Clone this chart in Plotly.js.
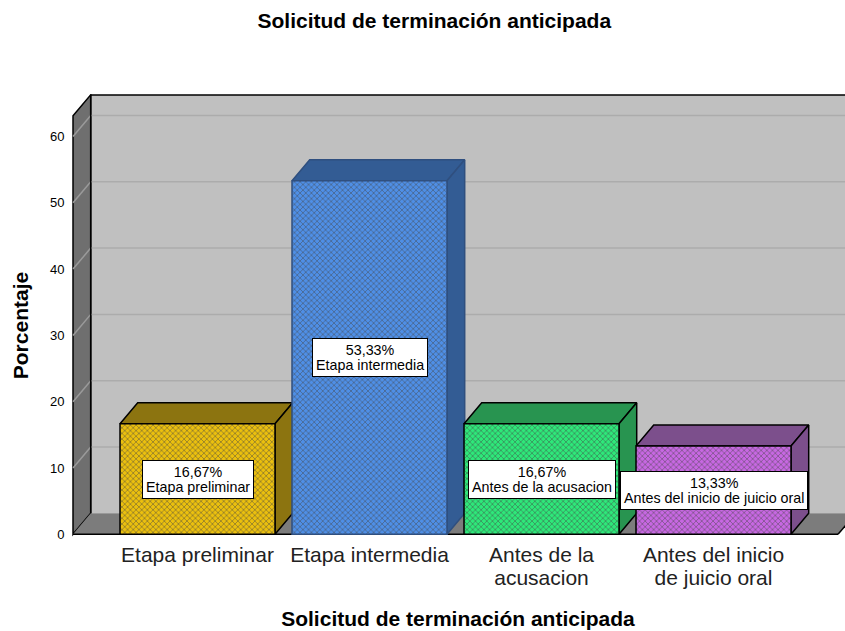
<!DOCTYPE html>
<html><head><meta charset="utf-8">
<script src="https://cdn.plot.ly/plotly-3.0.1.min.js"></script>
<style>html,body{margin:0;padding:0;background:#fff}</style></head>
<body><div id="c" style="width:845px;height:631px"></div>
<script>
const categories=['Etapa preliminar','Etapa intermedia','Antes de la acusacion','Antes del inicio de juicio oral'];
const tickLabels=['Etapa preliminar','Etapa intermedia','Antes de la<br>acusacion','Antes del inicio<br>de juicio oral'];
const values=[16.67,53.33,16.67,13.33];
const valueLabels=['16,67%','53,33%','16,67%','13,33%'];
const yTicks=[0,10,20,30,40,50,60];
const frontColors=['#EBC00E','#4F8FE6','#2EE87A','#C768E2'];
const dotColors=['#4A3C00','#183668','#0C5A2C','#46205C'];
const shadeColors=['#8C7410','#335C94','#289450','#7C4F8C'];
const edgeColors=['#000','#2F4F7F','#000','#000'];

const xPos=categories.map((_,i)=>i);
const bw=155/172, dx=17.7/172, dy=21/6.63;
const xMin=-0.7238, xMax=3.7238, yTop=63.1;
const xRange=[-0.7355,3.7645], yRange=[-0.4,66.4];

function poly(xs,ys,fill,line,w){return {type:'path',layer:'below',xref:'x',yref:'y',
  path:xs.map((x,i)=>(i?'L':'M')+x+','+ys[i]).join(' ')+' Z',fillcolor:fill,line:{color:line,width:w}};}
function seg(x0,y0,x1,y1,color,w){return {type:'line',layer:'below',xref:'x',yref:'y',x0,y0,x1,y1,line:{color,width:w}};}

const shapes=[
  poly([xMin+dx,xMax+dx+1,xMax+dx+1,xMin+dx],[dy,dy,yTop+dy,yTop+dy],'#C0C0C0','rgba(0,0,0,0)',0),
  poly([xMin,xMin+dx,xMin+dx,xMin],[0,dy,yTop+dy,yTop],'#6F6F6F','#000',1.5),
  poly([xMin,xMax,xMax+dx,xMin+dx],[0,0,dy,dy],'#7C7C7C','rgba(0,0,0,0)',0),
];
yTicks.slice(1).forEach(t=>{
  shapes.push(seg(xMin+dx,t+dy,xMax+dx+1,t+dy,'#ACACAC',1.5));
  shapes.push(seg(xMin,t,xMin+dx,t+dy,'#9A9A9A',1.5));
});
shapes.push(seg(xMin+dx,yTop+dy,xMax+dx+1,yTop+dy,'#000',1.5));
shapes.push(seg(xMin+dx,dy,xMin+dx,yTop+dy,'#000',1.5));
shapes.push(seg(xMin,0,xMax,0,'#000',1.5));
shapes.push(seg(xMax,0,xMax+dx,dy,'#000',1.5));

const traces=[];
values.forEach((v,i)=>{
  const l=i-bw/2,r=i+bw/2;
  traces.push({type:'scatter',mode:'lines',hoverinfo:'skip',fill:'toself',fillcolor:shadeColors[i],
    x:[l,r,r+dx,l+dx,l],y:[v,v,v+dy,v+dy,v],line:{color:edgeColors[i],width:1.5}});
  traces.push({type:'scatter',mode:'lines',hoverinfo:'skip',fill:'toself',fillcolor:shadeColors[i],
    x:[r,r+dx,r+dx,r,r],y:[0,dy,v+dy,v,0],line:{color:edgeColors[i],width:1.5}});
});
traces.push({type:'bar',xaxis:'x2',yaxis:'y2',x:xPos,y:values,width:bw,hoverinfo:'skip',
  marker:{color:frontColors,line:{color:edgeColors,width:1.5},
    pattern:{shape:'x',size:4,solidity:0.25,fgcolor:dotColors,fgopacity:0.85,fillmode:'overlay'}}});

const annotations=values.map((v,i)=>({x:i,y:v/2,xref:'x',yref:'y',showarrow:false,
  text:'<span style="font-size:14.3px">'+valueLabels[i]+'</span><br><span style="font-size:14.3px">'+categories[i]+'</span>',align:'center',bgcolor:'#fff',bordercolor:'#000',borderwidth:1,borderpad:3,
  font:{family:'Liberation Sans, Arial, sans-serif',size:11.5,color:'#000'}}));
annotations.push({xref:'paper',yref:'paper',x:-0.0659,y:0.478,showarrow:false,textangle:-90,xanchor:'center',yanchor:'middle',
  text:'<b>Porcentaje</b>',font:{family:'Liberation Sans, Arial, sans-serif',size:21,color:'#000'}});

const layout={width:845,height:631,showlegend:false,paper_bgcolor:'#fff',plot_bgcolor:'#fff',
  margin:{l:71,r:0,t:93.9,b:94.2},
  font:{family:'Liberation Sans, Arial, sans-serif',color:'#000'},
  title:{text:'<b>Solicitud de terminación anticipada</b>',font:{size:21,color:'#000'},x:0.514,xanchor:'center',y:0.968,yanchor:'middle'},
  xaxis:{range:xRange,tickmode:'array',tickvals:xPos,
    ticktext:tickLabels.map(t=>t.split('<br>').map(s=>'<span style="font-size:21px">'+s+'</span>').join('<br>')),
    showgrid:false,zeroline:false,showline:false,
    ticks:'outside',ticklen:4,tickcolor:'rgba(0,0,0,0)',tickfont:{size:17,color:'#222'},
    title:{text:'<b>Solicitud de terminación anticipada</b>',font:{size:21,color:'#000'},standoff:23}},
  yaxis:{range:yRange,tickmode:'array',tickvals:yTicks,ticktext:yTicks.map(String),showgrid:false,zeroline:false,showline:false,
    ticks:'outside',ticklen:3,tickcolor:'rgba(0,0,0,0)',tickfont:{size:13,color:'#000'}},
  xaxis2:{range:xRange,overlaying:'x',visible:false},
  yaxis2:{range:yRange,overlaying:'y',visible:false},
  shapes,annotations};
Plotly.newPlot('c',traces,layout,{displayModeBar:false,staticPlot:true});
</script></body></html>
